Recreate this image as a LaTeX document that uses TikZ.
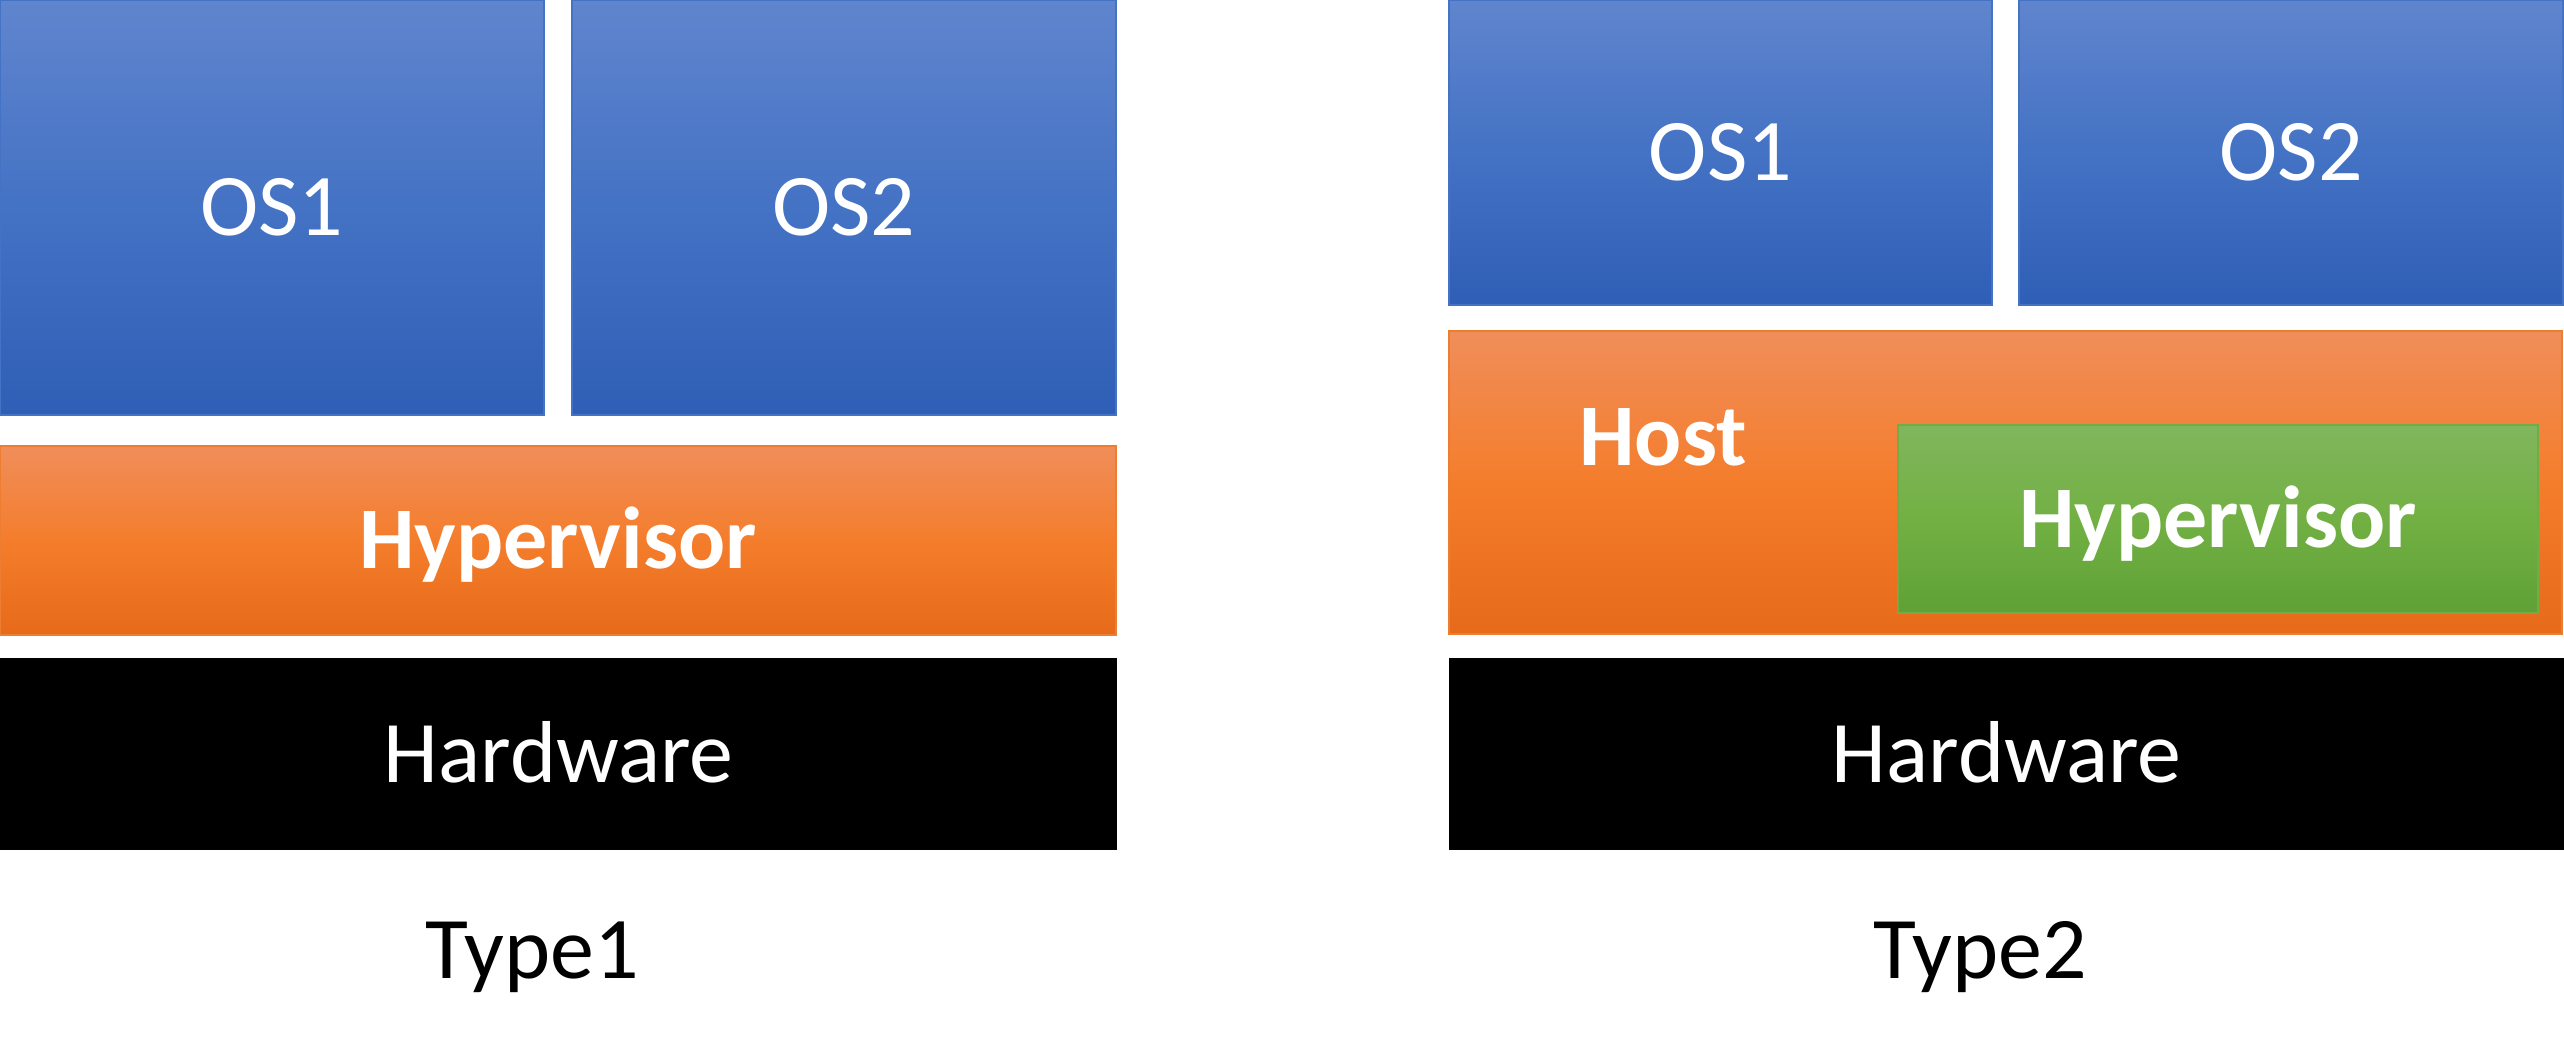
\documentclass[tikz,border=0pt]{standalone}
\usepackage{fontspec}
\setmainfont{Carlito}
\usepackage{tikz}

\definecolor{blueT}{RGB}{96,133,206}
\definecolor{blueM}{RGB}{68,114,196}
\definecolor{blueB}{RGB}{47,94,182}
\definecolor{orT}{RGB}{240,142,90}
\definecolor{orM}{RGB}{244,125,44}
\definecolor{orB}{RGB}{230,106,25}
\definecolor{orL}{RGB}{237,125,49}
\definecolor{grT}{RGB}{129,182,94}
\definecolor{grM}{RGB}{114,176,67}
\definecolor{grB}{RGB}{95,161,54}
\definecolor{grL}{RGB}{112,173,71}

\begin{document}
\begin{tikzpicture}[x=0.01cm,y=-0.01cm,
  txt/.style={font=\fontsize{25}{30}\selectfont, text height=16pt, text depth=0pt, inner sep=0pt},
  osbox/.style={txt, draw=blueM, line width=0.6pt, top color=blueT, bottom color=blueB, middle color=blueM, text=white},
  orbox/.style={txt, draw=orL, line width=0.6pt, top color=orT, bottom color=orB, middle color=orM, text=white, font=\fontsize{25}{30}\selectfont\bfseries},
  grbox/.style={txt, draw=grL, line width=0.6pt, top color=grT, bottom color=grB, middle color=grM, text=white, font=\fontsize{25}{30}\selectfont\bfseries},
  hwbox/.style={txt, fill=black, text=white}]
\useasboundingbox (0,0) rectangle (2564,1046);

% Type1
\node[osbox, minimum width=5.44cm, minimum height=4.15cm] (OSa) at (272,207.5) {OS1};
\node[osbox, minimum width=5.44cm, minimum height=4.15cm] (OSb) at (844,207.5) {OS2};
\node[orbox, minimum width=11.16cm, minimum height=1.89cm] (Hyp) at (558,540.5) {Hypervisor};
\node[hwbox, minimum width=11.17cm, minimum height=1.92cm] (HW) at (558.5,754) {Hardware};
\node[txt] (Ta) at (532,950) {Type1};

% Type2
\node[osbox, minimum width=5.43cm, minimum height=3.05cm] (OSc) at (1720.5,152.5) {OS1};
\node[osbox, minimum width=5.44cm, minimum height=3.05cm] (OSd) at (2291,152.5) {OS2};
\node[orbox, minimum width=11.13cm, minimum height=3.03cm] (Host) at (2005.5,482.5) {};
\node[txt, text=white, font=\fontsize{25}{30}\selectfont\bfseries] (HostT) at (1663,437) {Host};
\node[grbox, minimum width=6.40cm, minimum height=1.88cm] (HypG) at (2218,519) {Hypervisor};
\node[hwbox, minimum width=11.15cm, minimum height=1.92cm] (HWb) at (2006.5,754) {Hardware};
\node[txt] (Tb) at (1980,950) {Type2};
\end{tikzpicture}
\end{document}
